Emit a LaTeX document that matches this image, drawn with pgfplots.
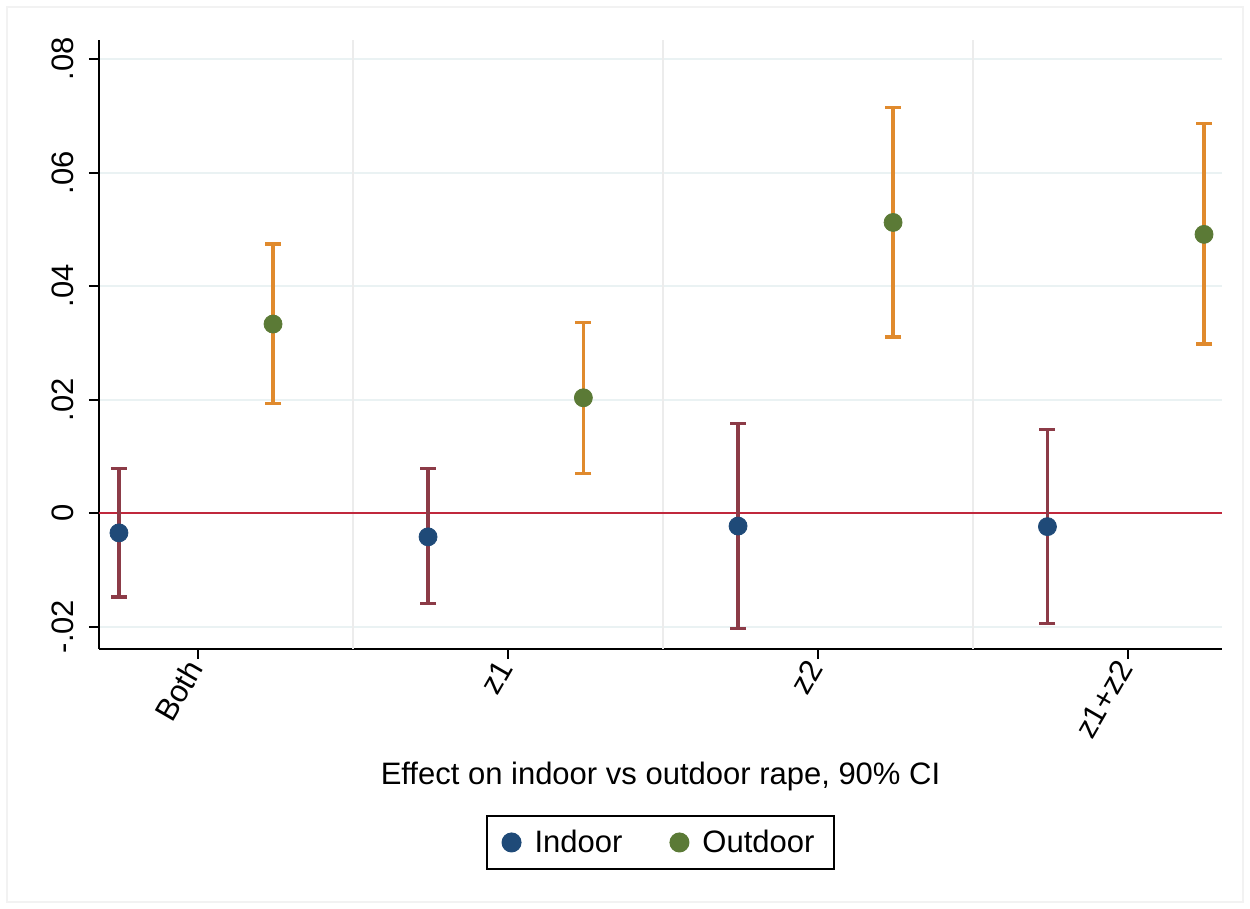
\documentclass[border=0pt]{standalone}
\usepackage{fontspec}
\setmainfont{Liberation Sans}
\setsansfont{Liberation Sans}
\usepackage{pgfplots}
\pgfplotsset{compat=1.18}
\usepackage{pgfplotstable}

\definecolor{indoor}{HTML}{1F4A78}
\definecolor{outdoor}{HTML}{5B7A36}
\definecolor{indoorci}{HTML}{8C3B47}
\definecolor{outdoorci}{HTML}{E08A2D}
\definecolor{zeroline}{HTML}{C0283C}
\definecolor{hgrid}{HTML}{EAF2F3}
\definecolor{vgrid}{HTML}{ECECEC}

\newcommand\fs{\fontsize{15.5}{18}\selectfont}

% point estimate and 90% CI bounds
\pgfplotstableread{
x     y       lo       hi
0.745 -0.0035 -0.0148  0.0079
1.742 -0.0042 -0.0160  0.0078
2.742 -0.0023 -0.0203  0.0158
3.740 -0.0024 -0.0195  0.0147
}\indoordata

\pgfplotstableread{
x     y       lo       hi
1.242  0.0333  0.0193  0.0474
2.243  0.0203  0.0070  0.0336
3.242  0.0512  0.0310  0.0715
4.245  0.0491  0.0298  0.0686
}\outdoordata

\begin{document}
\begin{tikzpicture}
\begin{axis}[
  scale only axis, width=561.5pt, height=304.5pt,
  xmin=0.6806, xmax=4.303, ymin=-0.02396, ymax=0.08335,
  axis x line*=bottom, axis y line*=left,
  axis line style={line width=1pt, black},
  tick align=outside, major tick length=5pt,
  tick style={line width=1pt, black},
  scaled y ticks=false,
  xtick={1,2,3,4}, xticklabels={Both,z1,z2,z1+z2},
  xticklabel style={rotate=60, anchor=east, font=\fs},
  xticklabel shift=-1pt,
  ytick={-0.02,0,0.02,0.04,0.06,0.08},
  yticklabels={-.02,0,.02,.04,.06,.08},
  yticklabel style={rotate=90, anchor=south, font=\fs},
  yticklabel shift=4pt,
  ymajorgrids, major grid style={line width=1pt, color=hgrid},
  extra x ticks={1.5,2.5,3.5}, extra x tick labels={},
  extra x tick style={grid=major, major grid style={line width=1pt, color=vgrid}, major tick length=0pt},
  xlabel={Effect on indoor vs outdoor rape, 90\% CI},
  xlabel style={at={(axis description cs:0.5,-0.21)}, anchor=center, font=\fs},
  legend columns=2,
  legend style={at={(0.5,-0.3177)}, anchor=center, draw=black, line width=1pt,
    font=\fs, inner xsep=8pt, inner ysep=5pt,
    /tikz/every odd column/.append style={column sep=5pt},
    /tikz/every even column/.append style={column sep=22pt}},
  clip=false,
]
\coordinate (sw) at (rel axis cs:0,0);
\addplot[zeroline, line width=1.4pt, forget plot] coordinates {(0.6806,0) (4.303,0)};

\addplot[only marks, mark=*, mark size=4.5pt, mark options={draw=indoor, fill=indoor},
  error bars/.cd, y dir=both, y explicit,
  error bar style={line width=1.6pt, color=indoorci},
  error mark options={rotate=90, line width=1.6pt, color=indoorci, mark size=4pt}]
  table[x=x, y=y, y error plus expr=\thisrow{hi}-\thisrow{y}, y error minus expr=\thisrow{y}-\thisrow{lo}] {\indoordata};
\addlegendentry{Indoor}

\addplot[only marks, mark=*, mark size=4.5pt, mark options={draw=outdoor, fill=outdoor},
  error bars/.cd, y dir=both, y explicit,
  error bar style={line width=1.6pt, color=outdoorci},
  error mark options={rotate=90, line width=1.6pt, color=outdoorci, mark size=4pt}]
  table[x=x, y=y, y error plus expr=\thisrow{hi}-\thisrow{y}, y error minus expr=\thisrow{y}-\thisrow{lo}] {\outdoordata};
\addlegendentry{Outdoor}
\end{axis}
\path (sw) ++(-49.5pt,-130pt) coordinate (bl) rectangle ++(625pt,454.5pt) coordinate (tr);
\draw[gray!10, line width=0.6pt] ([shift={(3.5pt,3.5pt)}]bl) rectangle ([shift={(-3.5pt,-3.5pt)}]tr);
\end{tikzpicture}
\end{document}
